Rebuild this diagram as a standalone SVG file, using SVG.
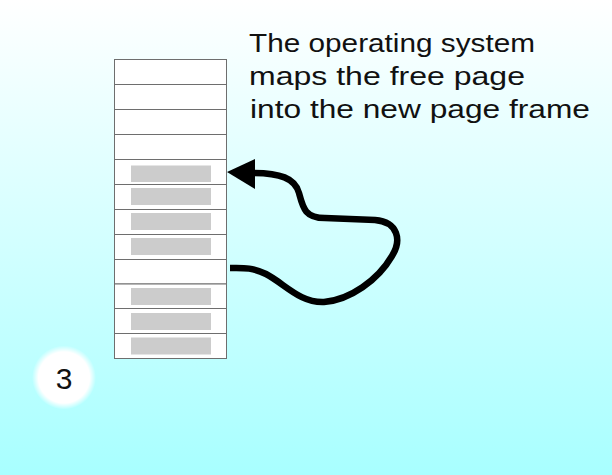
<svg xmlns="http://www.w3.org/2000/svg" width="612" height="475" viewBox="0 0 612 475">
<defs>
<linearGradient id="bg" x1="0" y1="0" x2="0" y2="1">
<stop offset="0" stop-color="#ffffff"/>
<stop offset="1" stop-color="#a8ffff"/>
</linearGradient>
<radialGradient id="glow">
<stop offset="0.8" stop-color="#ffffff"/>
<stop offset="1" stop-color="#ffffff" stop-opacity="0"/>
</radialGradient>
<style>
.row{fill:#ffffff;stroke:#6e6e6e;stroke-width:1}
.used{fill:#cccccc}
.txt{font-family:"Liberation Sans",Arial,sans-serif;font-size:26px;fill:#111111}
.num{font-family:"Liberation Sans",Arial,sans-serif;font-size:30px;fill:#111111}
.conn{fill:none;stroke:#000000;stroke-width:6.5;stroke-linecap:butt}
</style>
</defs>
<rect x="0" y="0" width="612" height="475" fill="url(#bg)"/>
<g id="table">
<rect class="row" x="114.5" y="59.5" width="112" height="25"/>
<rect class="row" x="114.5" y="84.5" width="112" height="25"/>
<rect class="row" x="114.5" y="109.5" width="112" height="25"/>
<rect class="row" x="114.5" y="134.5" width="112" height="25"/>
<rect class="row" x="114.5" y="159.5" width="112" height="25"/>
<rect class="row" x="114.5" y="184.5" width="112" height="25"/>
<rect class="row" x="114.5" y="209.5" width="112" height="25"/>
<rect class="row" x="114.5" y="234.5" width="112" height="25"/>
<rect class="row" x="114.5" y="259.5" width="112" height="24.5"/>
<rect class="row" x="114.5" y="284" width="112" height="24.5"/>
<rect class="row" x="114.5" y="308.5" width="112" height="25"/>
<rect class="row" x="114.5" y="333.5" width="112" height="25"/>
<rect class="used" x="131" y="165.5" width="80" height="16.5"/>
<rect class="used" x="131" y="188" width="80" height="17"/>
<rect class="used" x="131" y="213" width="80" height="17"/>
<rect class="used" x="131" y="238" width="80" height="17"/>
<rect class="used" x="131" y="288" width="80" height="17"/>
<rect class="used" x="131" y="313" width="80" height="17"/>
<rect class="used" x="131" y="337.5" width="80" height="17"/>
</g>
<g id="connectors">
<path class="conn" d="M 252 173 C 280 173, 295 178, 299 193 C 303 208, 305 218, 325 218 L 375 220 C 398 222, 402 240, 392 256 C 378 280, 350 300, 324 302 C 300 303, 285 284, 266 274 C 252 267, 242 268, 230 268"/>
<polygon points="227,172 255,159 255,189" fill="#000000"/>
</g>
<g id="label">
<text class="txt" x="249" y="52" textLength="286" lengthAdjust="spacingAndGlyphs">The operating system</text>
<text class="txt" x="249" y="85" textLength="276" lengthAdjust="spacingAndGlyphs">maps the free page</text>
<text class="txt" x="250" y="118" textLength="340" lengthAdjust="spacingAndGlyphs">into the new page frame</text>
</g>
<g id="step">
<circle cx="64" cy="377.5" r="32" fill="url(#glow)"/>
<text class="num" x="64" y="388.5" text-anchor="middle">3</text>
</g>
</svg>
